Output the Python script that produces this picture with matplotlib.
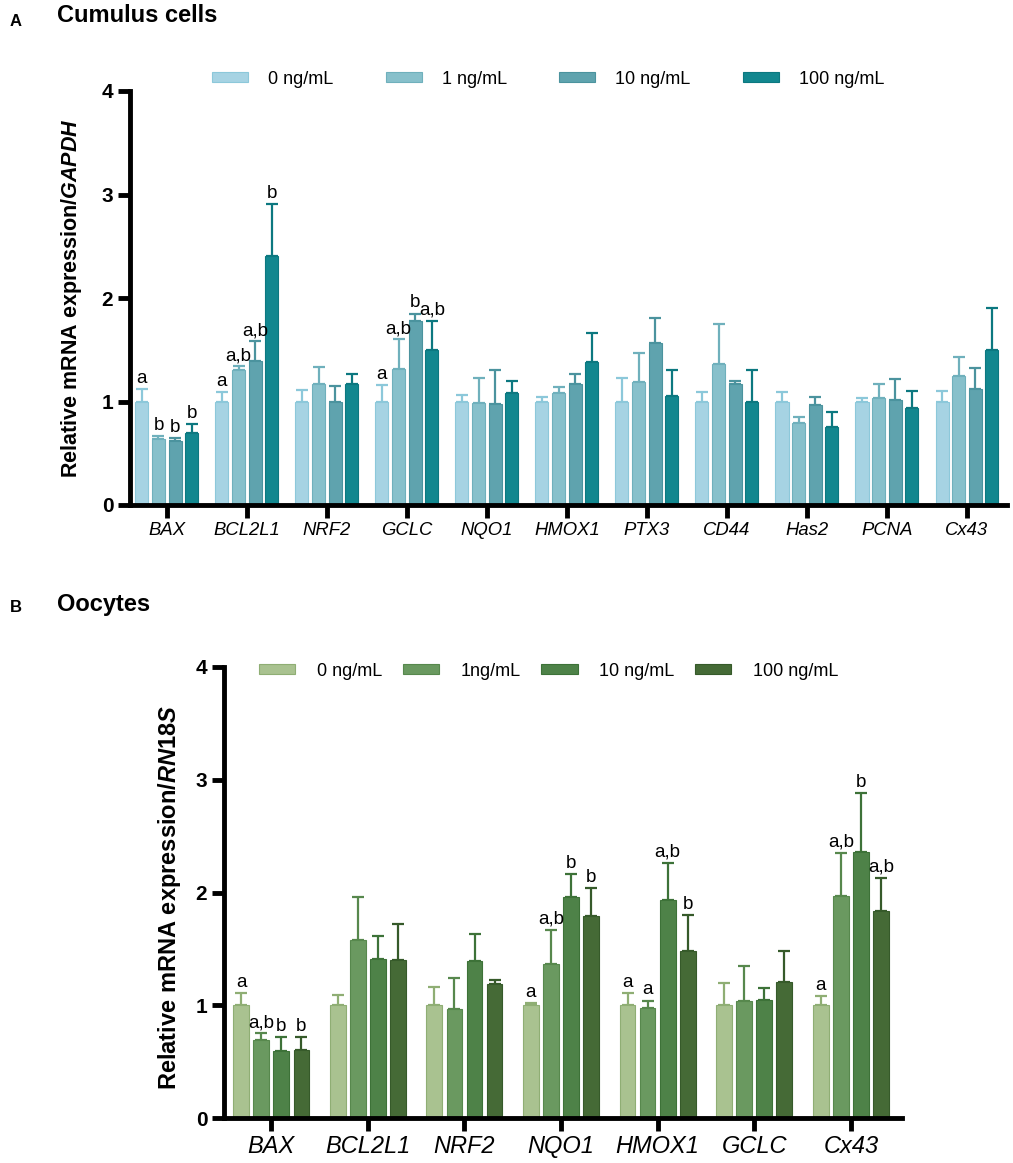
import matplotlib
matplotlib.use("Agg")
import matplotlib.pyplot as plt
import numpy as np

plt.rcParams.update({
    "font.family": ["Liberation Sans", "DejaVu Sans"],
    "mathtext.fontset": "custom",
    "mathtext.rm": "Liberation Sans:bold",
    "mathtext.it": "Liberation Sans:bold:italic",
    "axes.edgecolor": "black",
    "axes.grid": False,
})

DOSES = ["0 ng/mL", "1 ng/mL", "10 ng/mL", "100 ng/mL"]
DOSES_B = ["0 ng/mL", "1ng/mL", "10 ng/mL", "100 ng/mL"]

# Panel A: cumulus cells (relative to GAPDH)
GENES_A = ["BAX", "BCL2L1", "NRF2", "GCLC", "NQO1", "HMOX1",
           "PTX3", "CD44", "Has2", "PCNA", "Cx43"]
A_MEAN_0 = [1.00, 1.00, 1.00, 1.00, 1.00, 1.00, 1.00, 1.00, 1.00, 1.00, 1.00]
A_SEM_0 = [0.12, 0.09, 0.11, 0.16, 0.06, 0.04, 0.23, 0.09, 0.09, 0.03, 0.10]
A_MEAN_1 = [0.64, 1.30, 1.17, 1.31, 0.99, 1.08, 1.19, 1.36, 0.79, 1.03, 1.25]
A_SEM_1 = [0.03, 0.04, 0.16, 0.29, 0.24, 0.06, 0.28, 0.39, 0.06, 0.14, 0.18]
A_MEAN_10 = [0.62, 1.39, 1.00, 1.78, 0.98, 1.17, 1.57, 1.17, 0.97, 1.01, 1.12]
A_SEM_10 = [0.03, 0.19, 0.15, 0.07, 0.32, 0.10, 0.24, 0.03, 0.07, 0.21, 0.20]
A_MEAN_100 = [0.70, 2.41, 1.17, 1.50, 1.08, 1.38, 1.05, 1.00, 0.75, 0.94, 1.50]
A_SEM_100 = [0.08, 0.50, 0.10, 0.28, 0.12, 0.28, 0.25, 0.30, 0.15, 0.16, 0.40]
A_SIG_0 = ["a", "a", "", "a", "", "", "", "", "", "", ""]
A_SIG_1 = ["b", "a,b", "", "a,b", "", "", "", "", "", "", ""]
A_SIG_10 = ["b", "a,b", "", "b", "", "", "", "", "", "", ""]
A_SIG_100 = ["b", "b", "", "a,b", "", "", "", "", "", "", ""]

# Panel B: oocytes (relative to RN18S)
GENES_B = ["BAX", "BCL2L1", "NRF2", "NQO1", "HMOX1", "GCLC", "Cx43"]
B_MEAN_0 = [1.00, 1.00, 1.00, 1.00, 1.00, 1.00, 1.00]
B_SEM_0 = [0.11, 0.09, 0.16, 0.02, 0.11, 0.20, 0.08]
B_MEAN_1 = [0.69, 1.58, 0.97, 1.37, 0.98, 1.04, 1.97]
B_SEM_1 = [0.06, 0.38, 0.27, 0.30, 0.06, 0.31, 0.38]
B_MEAN_10 = [0.59, 1.41, 1.39, 1.96, 1.93, 1.05, 2.36]
B_SEM_10 = [0.13, 0.20, 0.24, 0.20, 0.33, 0.10, 0.52]
B_MEAN_100 = [0.60, 1.40, 1.19, 1.79, 1.48, 1.21, 1.84]
B_SEM_100 = [0.12, 0.32, 0.03, 0.25, 0.32, 0.27, 0.29]
B_SIG_0 = ["a", "", "", "a", "a", "", "a"]
B_SIG_1 = ["a,b", "", "", "a,b", "a", "", "a,b"]
B_SIG_10 = ["b", "", "", "b", "a,b", "", "b"]
B_SIG_100 = ["b", "", "", "b", "b", "", "a,b"]

COL_A = ["#A6D3E3", "#87C0CB", "#5FA3AE", "#12878F"]
ERR_A = ["#8CC8DA", "#6FB0BC", "#4B939E", "#0C7880"]
COL_B = ["#A9C290", "#6A9960", "#4E8248", "#456A36"]
ERR_B = ["#8FAE74", "#57884D", "#3D7238", "#365A2A"]

W, H = 1013, 1163
PITCH = 0.208
BW = 0.163


def draw_panel(ax, genes, means, sems, sigs, cols, ecols, xfs, sigfs):
    x = np.arange(len(genes))
    for i in range(4):
        pos = x + (i - 1.5) * PITCH
        ax.bar(pos, means[i], width=BW, color=cols[i], edgecolor=ecols[i],
               linewidth=0.8, zorder=2)
        err = np.array(sems[i])
        ax.errorbar(pos, means[i], yerr=[np.zeros_like(err), err], fmt="none",
                    ecolor=ecols[i], elinewidth=1.6, capsize=4, capthick=1.6,
                    zorder=1)
        for p, m, s, t in zip(pos, means[i], sems[i], sigs[i]):
            if t:
                ax.text(p, m + s + 0.02, t, ha="center", va="bottom",
                        fontsize=sigfs, color="black")
    ax.set_xticks(x)
    ax.set_xticklabels(genes, fontstyle="italic", fontsize=xfs)
    ax.set_ylim(0, 4)
    ax.set_yticks([0, 1, 2, 3, 4])
    for lab in ax.get_yticklabels():
        lab.set_fontweight("bold")
        lab.set_fontsize(15)
    for s in ("top", "right"):
        ax.spines[s].set_visible(False)
    for s in ("left", "bottom"):
        ax.spines[s].set_linewidth(3.5)
    ax.tick_params(axis="both", width=3.5, length=9, pad=3)


fig = plt.figure(figsize=(W / 100, H / 100), dpi=100)

# ---- Panel A
axA = fig.add_axes([130 / W, 1 - 505 / H, 877 / W, 414 / H])
draw_panel(axA, GENES_A,
           [A_MEAN_0, A_MEAN_1, A_MEAN_10, A_MEAN_100],
           [A_SEM_0, A_SEM_1, A_SEM_10, A_SEM_100],
           [A_SIG_0, A_SIG_1, A_SIG_10, A_SIG_100],
           COL_A, ERR_A, 13.3, 13.5)
axA.set_xlim(-0.46, 10.5)
axA.set_ylabel(r"Relative mRNA expression/$\mathit{GAPDH}$",
               fontsize=15.5, fontweight="bold")
axA.yaxis.set_label_coords(-0.053, 0.5)
hA = [plt.Rectangle((0, 0), 1, 1, facecolor=c, edgecolor=e, linewidth=0.8)
      for c, e in zip(COL_A, ERR_A)]
fig.legend(hA, DOSES, loc="center left", bbox_to_anchor=(212 / W, 1 - 79 / H),
           ncol=4, frameon=False, fontsize=13, handlelength=2.0,
           handleheight=0.45, handletextpad=1.1, columnspacing=2.9,
           borderpad=0, borderaxespad=0)
fig.text(10 / W, 1 - 21 / H, "A", fontsize=12, fontweight="bold",
         ha="left", va="center")
fig.text(57 / W, 1 - 16 / H, "Cumulus cells", fontsize=17, fontweight="bold",
         ha="left", va="center")

# ---- Panel B
axB = fig.add_axes([224 / W, 1 - 1118 / H, 678 / W, 451 / H])
draw_panel(axB, GENES_B,
           [B_MEAN_0, B_MEAN_1, B_MEAN_10, B_MEAN_100],
           [B_SEM_0, B_SEM_1, B_SEM_10, B_SEM_100],
           [B_SIG_0, B_SIG_1, B_SIG_10, B_SIG_100],
           COL_B, ERR_B, 17, 13.5)
axB.set_xlim(-0.49, 6.53)
axB.set_ylabel(r"Relative mRNA expression/$\mathit{RN18S}$",
               fontsize=17, fontweight="bold")
axB.yaxis.set_label_coords(-0.06, 0.49)
hB = [plt.Rectangle((0, 0), 1, 1, facecolor=c, edgecolor=e, linewidth=0.8)
      for c, e in zip(COL_B, ERR_B)]
fig.legend(hB, DOSES_B, loc="center left", bbox_to_anchor=(259 / W, 1 - 671 / H),
           ncol=4, frameon=False, fontsize=13, handlelength=2.0,
           handleheight=0.45, handletextpad=1.2, columnspacing=1.15,
           borderpad=0, borderaxespad=0)
fig.text(10 / W, 1 - 608 / H, "B", fontsize=12, fontweight="bold",
         ha="left", va="center")
fig.text(57 / W, 1 - 604 / H, "Oocytes", fontsize=17, fontweight="bold",
         ha="left", va="center")

fig.savefig("out.png", dpi=100)
